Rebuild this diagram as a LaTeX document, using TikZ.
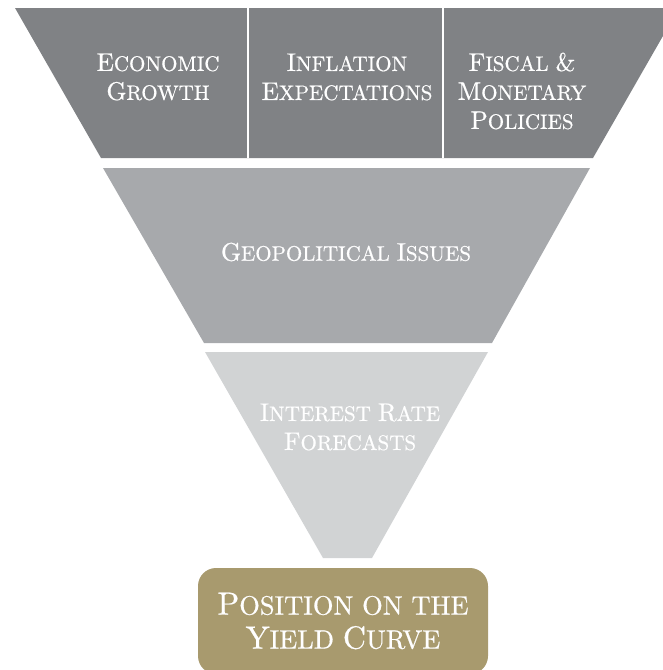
\documentclass[tikz,border=0pt]{standalone}
\usepackage{fontspec}
\setmainfont{lmroman10-regular}[Extension=.otf]
% initial capitals set larger than the rest of a caps word
\newcommand\Ini[1]{{\fontsize{25.5}{29}\selectfont #1}}
\newcommand\IniB[1]{{\fontsize{32}{34}\selectfont #1}}
\begin{document}
\begin{tikzpicture}[x=1pt,y=-1pt,
  lbl/.style={text=white, align=center, inner sep=0pt,
    font=\fontsize{21}{29}\selectfont\addfontfeature{FakeBold=0.6}},
  biglbl/.style={text=white, align=center, inner sep=0pt,
    font=\fontsize{26.5}{34}\selectfont\addfontfeature{FakeBold=0.6}}]
\definecolor{tierdark}{RGB}{128,130,133}
\definecolor{tiermid}{RGB}{167,169,172}
\definecolor{tierlight}{RGB}{209,211,212}
\definecolor{gold}{RGB}{168,154,110}
\useasboundingbox (0,0) rectangle (663,670);
\clip (0,0) rectangle (663,670);

% top tier: three drivers
\fill[tierdark] (15,8) -- (679,8) -- (593,158) -- (101,158) -- cycle;
\draw[white, line width=2.5pt] (248,8) -- (248,158);
\draw[white, line width=2.5pt] (443,8) -- (443,158);

% second tier
\fill[tiermid] (103,168) -- (590,168) -- (492,343) -- (204,343) -- cycle;

% third tier
\fill[tierlight] (205,352) -- (488,352) -- (372,558) -- (323,558) -- cycle;

% outcome box
\fill[gold, rounded corners=18pt] (198,568) rectangle (488,674);

\node[lbl] (growth) at (158,77) {\Ini{E}CONOMIC\\\Ini{G}ROWTH};
\node[lbl] (inflation) at (347,77) {\Ini{I}NFLATION\\\Ini{E}XPECTATIONS};
\node[lbl] (policy) at (522,91) {\Ini{F}ISCAL \Ini{\&}\\\Ini{M}ONETARY\\\Ini{P}OLICIES};
\node[lbl] (geo) at (346,252) {\Ini{G}EOPOLITICAL \Ini{I}SSUES};
\node[lbl] (rates) at (350,427) {\Ini{I}NTEREST \Ini{R}ATE\\\Ini{F}ORECASTS};
\node[biglbl] (curve) at (343,621) {\IniB{P}OSITION ON THE\\\IniB{Y}IELD \IniB{C}URVE};
\end{tikzpicture}
\end{document}
